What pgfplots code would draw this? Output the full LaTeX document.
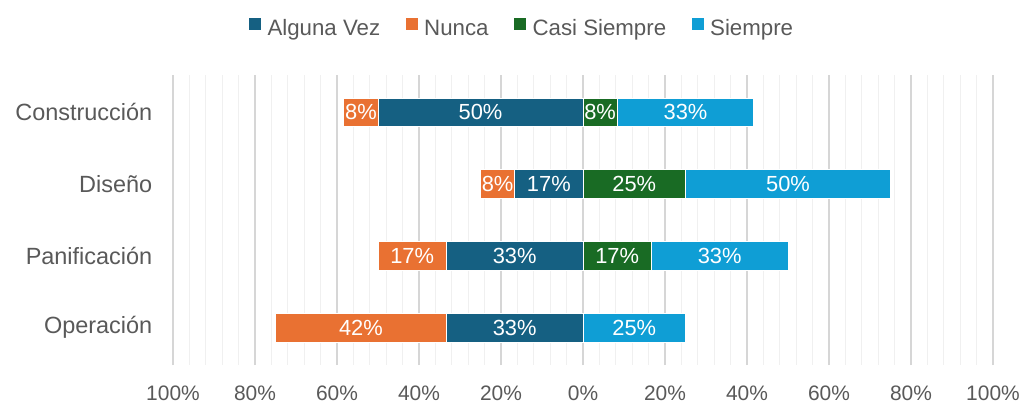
\documentclass[border=0pt]{standalone}
\usepackage{fontspec}
\setmainfont{Liberation Sans}
\usepackage{pgfplots}
\usepackage{pgfplotstable}
\pgfplotsset{compat=1.18}
\definecolor{cAlg}{HTML}{156082}
\definecolor{cNun}{HTML}{E97132}
\definecolor{cCas}{HTML}{196B24}
\definecolor{cSie}{HTML}{0F9ED5}
\definecolor{txt}{HTML}{595959}
\pgfplotstableread{
x y label
-16.67 0 33\%
-54.17 0 42\%
12.5 0 25\%
-16.67 1 33\%
-41.67 1 17\%
8.33 1 17\%
33.33 1 33\%
-8.33 2 17\%
-20.83 2 8\%
12.5 2 25\%
50 2 50\%
-25 3 50\%
-54.17 3 8\%
4.17 3 8\%
25 3 33\%
}\labels
\begin{document}
\begin{tikzpicture}
\useasboundingbox (-129.75pt,-30pt) rectangle (637.5pt,273.75pt);
\begin{axis}[
  at={(0,0)}, anchor=south west,
  scale only axis, width=615pt, height=217.5pt,
  xbar stacked, stack negative=separate,
  bar width=21.5pt,
  xmin=-100, xmax=100, ymin=-0.52, ymax=3.52,
  xtick={-100,-80,...,100},
  xticklabels={100\%,80\%,60\%,40\%,20\%,0\%,20\%,40\%,60\%,80\%,100\%},
  minor x tick num=4,
  xmajorgrids, xminorgrids,
  major grid style={draw=black!16, line width=0.9pt},
  minor grid style={draw=black!6, line width=0.9pt},
  ytick={0,1,2,3},
  yticklabels={Operación,Panificación,Diseño,Construcción},
  axis line style={draw=none},
  tick style={draw=none},
  xticklabel style={font=\fontsize{15.7}{18}\selectfont, text=txt, yshift=-12pt},
  yticklabel style={font=\fontsize{17.6}{20}\selectfont, text=txt, xshift=-12pt},
  legend columns=-1,
  legend style={draw=none, fill=none, at={(0.426,1.157)}, anchor=center,
    font=\fontsize{16.7}{19}\selectfont, text=txt,
    nodes={text height=0.72em, text depth=0.22em},
    /tikz/every odd column/.append style={column sep=3pt},
    /tikz/every even column/.append style={column sep=17pt}},
  legend image code/.code={\fill[#1,draw=none] (0pt,1.3pt) rectangle (9pt,10.3pt);},
]
\addplot[fill=cAlg, draw=white, line width=0.6pt] coordinates {(-33.33,0) (-33.33,1) (-16.67,2) (-50,3)};
\addplot[fill=cNun, draw=white, line width=0.6pt] coordinates {(-41.67,0) (-16.67,1) (-8.33,2) (-8.33,3)};
\addplot[fill=cCas, draw=white, line width=0.6pt] coordinates {(0,0) (16.67,1) (25,2) (8.33,3)};
\addplot[fill=cSie, draw=white, line width=0.6pt] coordinates {(25,0) (33.33,1) (50,2) (33.33,3)};
\legend{Alguna Vez, Nunca, Casi Siempre, Siempre}
\draw[black!16, line width=0.9pt] (axis cs:0,-0.52) -- (axis cs:0,3.52);
\end{axis}
\begin{axis}[
  at={(0,0)}, anchor=south west,
  scale only axis, width=615pt, height=217.5pt,
  xmin=-100, xmax=100, ymin=-0.52, ymax=3.52,
  hide axis,
]
\addplot[only marks, mark=none, nodes near coords, point meta=explicit symbolic,
  nodes near coords style={anchor=center, text=white, font=\fontsize{16.4}{19}\selectfont}]
  table[x=x, y=y, meta=label] {\labels};
\end{axis}
\end{tikzpicture}
\end{document}
